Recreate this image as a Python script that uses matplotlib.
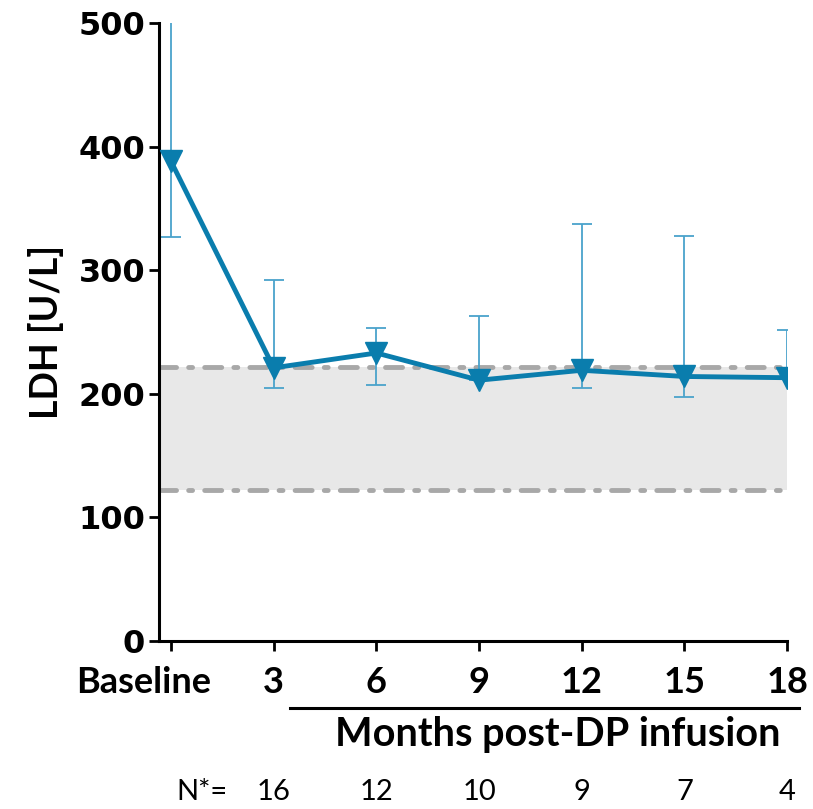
import matplotlib.pyplot as plt
import matplotlib.transforms as mtransforms
import numpy as np

plt.rcParams['font.family'] = ['Lato', 'DejaVu Sans']

# data
labels = ['Baseline', '3', '6', '9', '12', '15', '18']
ldh = [388, 221, 233, 211, 219, 214, 213]
err_hi = [520, 292, 253, 263, 337, 328, 252]
err_lo = [327, 205, 207, 211, 205, 197, 213]
n_counts = ['16', '12', '10', '9', '7', '4']
normal_lo, normal_hi = 122, 222

x = np.arange(len(labels))
line_col = '#0A7DAD'
err_col = '#4AA3CB'

fig = plt.figure(figsize=(8.13, 8.09), dpi=100)
ax = fig.add_axes([0.1956, 0.2077, 0.7725, 0.7639])

# normal range band
ax.fill_between([-0.12, 6], normal_lo, normal_hi, color='#E8E8E8', lw=0, zorder=0)
for v in (normal_lo, normal_hi):
    ax.plot([-0.12, 6], [v, v], color='#A8A8A8', lw=3.5, ls=(0, (3.5, 2.5, 0.8, 2.5)),
            dash_capstyle='round', zorder=1)

# error bars
ax.errorbar(x, ldh, yerr=[np.array(ldh) - np.array(err_lo), np.array(err_hi) - np.array(ldh)],
            fmt='none', ecolor=err_col, elinewidth=1.3, capsize=7.5, capthick=1.3, zorder=2)
ax.plot(x, ldh, color=line_col, lw=3.5, marker='v', markersize=16, zorder=3)

ax.set_xlim(-0.117, 6)
ax.set_ylim(0, 500)
ax.set_yticks([0, 100, 200, 300, 400, 500])
ax.set_xticks(x)
ax.set_xticklabels(labels)
for s in ['top', 'right']:
    ax.spines[s].set_visible(False)
for s in ['left', 'bottom']:
    ax.spines[s].set_linewidth(2.2)
ax.tick_params(axis='both', width=2, length=7, direction='out')
ax.tick_params(axis='y', labelsize=23, pad=3)
ax.tick_params(axis='x', labelsize=26, pad=11)
for t in ax.get_yticklabels():
    t.set_fontfamily('DejaVu Sans')
    t.set_fontweight('bold')
xtl = ax.get_xticklabels()
for t in xtl:
    t.set_fontweight('bold')
xtl[0].set_transform(xtl[0].get_transform() +
                     mtransforms.ScaledTranslation(-0.27, 0, fig.dpi_scale_trans))
ax.set_ylabel('LDH [U/L]', fontsize=27, fontweight='bold', labelpad=10)

# months bracket line and label
trans = ax.get_xaxis_transform()
ax.plot([1.16, 6.12], [-0.108, -0.108], transform=trans, color='black', lw=2.2, clip_on=False)
ax.text(3.77, -0.152, 'Months post-DP infusion', transform=trans, ha='center', va='center',
        fontsize=28.5, fontweight='bold')

# N row
ax.text(0.55, -0.245, 'N*=', transform=trans, ha='right', va='center', fontsize=21)
for xi, n in zip(x[1:], n_counts):
    ax.text(xi, -0.245, n, transform=trans, ha='center', va='center', fontsize=21)

plt.savefig('out.png', dpi=100)
